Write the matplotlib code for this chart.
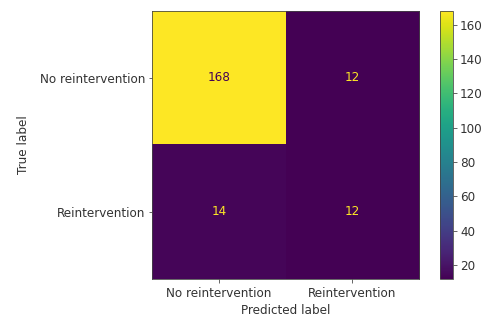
import numpy as np
import matplotlib
matplotlib.use("Agg")
import matplotlib.pyplot as plt

labels = ["No reintervention", "Reintervention"]
counts = np.array([[168, 12],
                   [14, 12]])

ink = "#333333"
plt.rcParams.update({
    "font.size": 12,
    "text.color": ink,
    "axes.labelcolor": ink,
    "axes.edgecolor": "#444444",
    "xtick.color": "#444444",
    "ytick.color": "#444444",
    "xtick.labelcolor": ink,
    "ytick.labelcolor": ink,
})

fig = plt.figure(figsize=(492 / 72, 321 / 72), dpi=72)
ax = fig.add_axes([0.309, 0.131, 0.543, 0.835])
cax = fig.add_axes([0.894, 0.131, 0.027, 0.835])

cmap = plt.get_cmap("viridis")
im = ax.imshow(counts, cmap=cmap, interpolation="nearest", aspect="auto")

vmin, vmax = counts.min(), counts.max()
thresh = (vmax + vmin) / 2.0
for i in range(counts.shape[0]):
    for j in range(counts.shape[1]):
        color = cmap(0) if counts[i, j] > thresh else cmap(1.0)
        ax.text(j, i, str(counts[i, j]), ha="center", va="center",
                color=color, fontsize=12)

ax.set_xticks(range(len(labels)))
ax.set_xticklabels(labels)
ax.set_yticks(range(len(labels)))
ax.set_yticklabels(labels)
ax.tick_params(axis="x", pad=5)
ax.set_xlabel("Predicted label", labelpad=4)
ax.set_ylabel("True label", labelpad=10)

cb = fig.colorbar(im, cax=cax)
cb.set_ticks([20, 40, 60, 80, 100, 120, 140, 160])
cb.outline.set_edgecolor("#444444")

fig.savefig("out.png", dpi=72, facecolor="white")
